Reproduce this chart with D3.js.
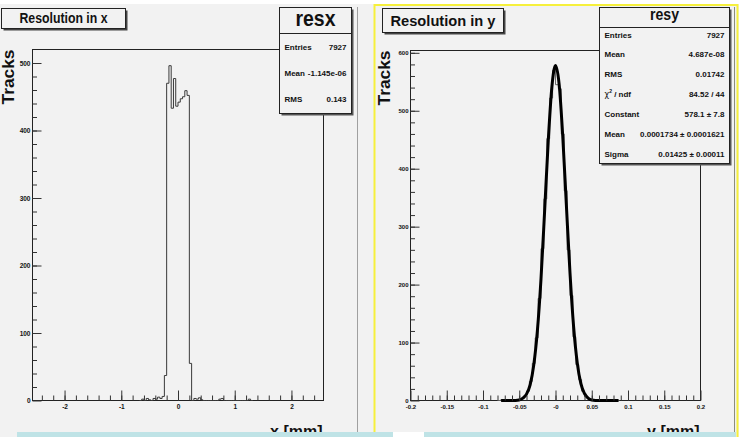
<!DOCTYPE html>
<html>
<head>
<meta charset="utf-8">
<script src="https://cdn.jsdelivr.net/npm/d3@7"></script>
<style>
body { margin: 0; background: #fff; }
text { font-family: "Liberation Sans", Arial, sans-serif; font-weight: bold; fill: #111; }
</style>
</head>
<body>
<div id="chart-area"></div>
<script>
// resx: histogram bins of 0.04 mm, first bin starts at resxStart
const resxStart = -0.68;
const resxWidth = 0.04;
const resxCounts = [0, 2, 0, 3, 1, 0, 3, 2, 5, 3, 6, 37, 470, 496, 433, 477, 436, 442, 447, 450, 459, 452, 55,
    0, 3, 2, 4, 1, 0, 0, 0, 0, 0, 0, 0, 2, 3, 0, 0, 0, 0, 0, 0, 0, 0, 0, 0, 0, 2, 0];
const resxTicks = [-2, -1, 0, 1, 2];
const resxStats = [["Entries", "7927"], ["Mean", "-1.145e-06"], ["RMS", "0.143"]];

// resy: histogram bins of 0.004 mm + gaussian fit
const resyStart = -0.08;
const resyWidth = 0.004;
const resyCounts = [0, 1, 0, 0, 1, 0, 1, 2, 3, 8, 16, 33, 64, 108, 176, 262, 348, 452, 522, 570,
    545, 538, 460, 362, 260, 181, 110, 62, 36, 16, 7, 3, 2, 0, 1, 0, 1, 0, 0, 0, 0, 0];
const fitX = [-0.075, -0.06, -0.05, -0.045, -0.04, -0.035, -0.03, -0.025, -0.02, -0.015, -0.01, -0.005, 0,
    0.005, 0.01, 0.015, 0.02, 0.025, 0.03, 0.035, 0.04, 0.045, 0.05, 0.06, 0.087];
const fitY = [0, 0, 1, 4, 11, 27, 61, 120, 210, 327, 448, 541, 578, 546, 456, 337, 220, 127, 65, 29, 12, 4, 1, 0, 0];
const resyTicks = [-0.2, -0.15, -0.1, -0.05, 0, 0.05, 0.1, 0.15, 0.2];
const resyTickLabels = ["-0.2", "-0.15", "-0.1", "-0.05", "-0", "0.05", "0.1", "0.15", "0.2"];
const resyStats = [["Entries", "7927"], ["Mean", "4.687e-08"], ["RMS", "0.01742"], ["chi2", "84.52 / 44"],
    ["Constant", "578.1 ± 7.8"], ["Mean", "0.0001734 ± 0.0001621"], ["Sigma", "0.01425 ± 0.00011"]];

const W = 742, H = 437;
const svg = d3.select("#chart-area").append("svg")
    .attr("width", W)
    .attr("height", H)
    .style("display", "block");

// pad backgrounds
svg.append("rect").attr("x", 0).attr("y", 4).attr("width", 371).attr("height", H - 4).attr("fill", "#f2f2f2");
svg.append("rect").attr("x", 371).attr("y", 4).attr("width", 368).attr("height", H - 4).attr("fill", "#f2f2f2");
svg.append("line").attr("x1", 357.5).attr("x2", 357.5).attr("y1", 7).attr("y2", H).attr("stroke", "#a0a0a0");
svg.append("line").attr("x1", 734.5).attr("x2", 734.5).attr("y1", 7).attr("y2", H).attr("stroke", "#8c8c7c");
svg.append("rect").attr("x", 374.5).attr("y", 5).attr("width", 363).attr("height", 445)
    .attr("fill", "none").attr("stroke", "#f6f03c").attr("stroke-width", 2);

function stepPoints(start, width, counts) {
    const pts = [[start, 0]];
    counts.forEach((c, i) => {
        pts.push([start + i * width, c]);
        pts.push([start + (i + 1) * width, c]);
    });
    pts.push([start + counts.length * width, 0]);
    return pts;
}

function drawPanel(p) {
    const g = svg.append("g");
    const x = d3.scaleLinear().domain(p.xDomain).range([p.left, p.right]);
    const y = d3.scaleLinear().domain(p.yDomain).range([p.bottom, p.top]);

    // frame
    g.append("rect")
        .attr("x", p.left).attr("y", p.top)
        .attr("width", p.right - p.left).attr("height", p.bottom - p.top)
        .attr("fill", "none").attr("stroke", "#222").attr("stroke-width", 1);

    // histogram outline
    g.append("path")
        .datum(stepPoints(p.hStart, p.hWidth, p.counts))
        .attr("fill", "none")
        .attr("stroke", p.histColor)
        .attr("stroke-width", 1)
        .attr("d", d3.line().x(d => x(d[0])).y(d => y(d[1])));

    if (p.fitX) {
        g.append("path")
            .datum(p.fitX.map((v, i) => [v, p.fitY[i]]))
            .attr("fill", "none")
            .attr("stroke", "#000")
            .attr("stroke-width", 3)
            .attr("stroke-linejoin", "round")
            .attr("d", d3.line().x(d => x(d[0])).y(d => y(d[1])).curve(d3.curveMonotoneX));
    }

    // x axis: minor then major
    g.append("g")
        .attr("transform", `translate(0, ${p.bottom})`)
        .call(d3.axisBottom(x).tickValues(p.xMinor).tickSize(-5).tickFormat(""))
        .call(a => a.select(".domain").remove());
    g.append("g")
        .attr("transform", `translate(0, ${p.bottom})`)
        .call(d3.axisBottom(x).tickValues(p.xTicks).tickSize(-10).tickPadding(4)
            .tickFormat((d, i) => p.xLabels[i]))
        .call(a => a.select(".domain").remove())
        .selectAll("text")
            .style("font-size", p.xFont + "px")
            .attr("fill", "#111");

    // y axis
    g.append("g")
        .attr("transform", `translate(${p.left}, 0)`)
        .call(d3.axisLeft(y).tickValues(p.yMinor).tickSize(-4.5).tickFormat(""))
        .call(a => a.select(".domain").remove());
    g.append("g")
        .attr("transform", `translate(${p.left}, 0)`)
        .call(d3.axisLeft(y).tickValues(p.yTicks).tickSize(-9).tickPadding(2).tickFormat(d3.format("d")))
        .call(a => a.select(".domain").remove())
        .selectAll("text")
            .style("font-size", p.yFont + "px")
            .attr("fill", "#111");

    g.selectAll(".tick line").attr("stroke", "#333");

    // axis titles
    g.append("text")
        .attr("transform", `translate(${p.yTitleX}, ${p.top}) rotate(-90)`)
        .attr("text-anchor", "end")
        .attr("textLength", 55)
        .attr("lengthAdjust", "spacingAndGlyphs")
        .style("font-size", "16px")
        .text("Tracks");
    g.append("text")
        .attr("x", p.right - 1).attr("y", 437)
        .attr("text-anchor", "end")
        .style("font-size", "16px")
        .text(p.xTitle);

    // stats box
    const s = p.stats;
    g.append("rect").attr("x", s.x + 2).attr("y", s.y + 2).attr("width", s.w).attr("height", s.h).attr("fill", "#555");
    g.append("rect").attr("x", s.x).attr("y", s.y).attr("width", s.w).attr("height", s.h)
        .attr("fill", "#f2f2f2").attr("stroke", "#222");
    g.append("line").attr("x1", s.x).attr("x2", s.x + s.w).attr("y1", s.sep).attr("y2", s.sep).attr("stroke", "#222");
    g.append("text")
        .attr("x", s.x + s.w / 2).attr("y", s.titleY)
        .attr("text-anchor", "middle")
        .attr("textLength", s.titleLen)
        .attr("lengthAdjust", "spacingAndGlyphs")
        .style("font-size", s.titleFont + "px")
        .text(s.title);
    s.rows.forEach((r, i) => {
        const ty = s.row0 + i * s.rowStep;
        const lab = g.append("text").attr("x", s.x + 5).attr("y", ty).style("font-size", "8px");
        if (r[0] === "chi2") {
            lab.append("tspan").style("font-family", "DejaVu Sans").style("font-weight", "normal").text("χ");
            lab.append("tspan").attr("dy", -4).style("font-size", "5px").text("2");
            lab.append("tspan").attr("dy", 4).text(" / ndf");
        } else {
            lab.text(r[0]);
        }
        g.append("text").attr("x", s.x + s.w - 5).attr("y", ty)
            .attr("text-anchor", "end").style("font-size", "8px").text(r[1]);
    });

    // title box
    const t = p.titleBox;
    g.append("rect").attr("x", t.x + 2).attr("y", t.y + 2).attr("width", t.w).attr("height", t.h).attr("fill", "#444");
    g.append("rect").attr("x", t.x).attr("y", t.y).attr("width", t.w).attr("height", t.h)
        .attr("fill", "#f2f2f2").attr("stroke", "#222");
    g.append("text")
        .attr("x", t.x + t.w / 2).attr("y", t.base)
        .attr("text-anchor", "middle")
        .attr("textLength", t.len)
        .attr("lengthAdjust", "spacingAndGlyphs")
        .style("font-size", t.font + "px")
        .text(t.text);
}

drawPanel({
    left: 32.5, right: 323.5, top: 49.5, bottom: 400.5,
    xDomain: [-2.565, 2.565], yDomain: [0, 520],
    hStart: resxStart, hWidth: resxWidth, counts: resxCounts, histColor: "#3a3a3a",
    xTicks: resxTicks, xLabels: resxTicks.map(String),
    xMinor: d3.range(-2.4, 2.41, 0.2), xFont: 6.5,
    yTicks: [0, 100, 200, 300, 400, 500], yMinor: d3.range(20, 520, 20), yFont: 6.5,
    yTitleX: 13.5, xTitle: "x [mm]",
    stats: { x: 279.5, y: 7.5, w: 72, h: 106, sep: 33.5, title: "resx", titleY: 25.5, titleFont: 22, titleLen: 40,
        rows: resxStats, row0: 49.5, rowStep: 26 },
    titleBox: { x: 1.5, y: 8.5, w: 124, h: 20, text: "Resolution in x", base: 22.5, font: 14, len: 88 }
});

drawPanel({
    left: 410.5, right: 700.5, top: 50.5, bottom: 400.5,
    xDomain: [-0.2, 0.2], yDomain: [0, 604],
    hStart: resyStart, hWidth: resyWidth, counts: resyCounts, histColor: "#6a6a6a",
    fitX: fitX, fitY: fitY,
    xTicks: resyTicks, xLabels: resyTickLabels,
    xMinor: d3.range(-0.19, 0.195, 0.01), xFont: 6,
    yTicks: [0, 100, 200, 300, 400, 500, 600], yMinor: d3.range(20, 604, 20), yFont: 6,
    yTitleX: 389.5, xTitle: "y [mm]",
    stats: { x: 599.5, y: 7.5, w: 130, h: 156, sep: 27.5, title: "resy", titleY: 20, titleFont: 17, titleLen: 29,
        rows: resyStats, row0: 37.5, rowStep: 19.9 },
    titleBox: { x: 382.5, y: 8.5, w: 121, h: 24, text: "Resolution in y", base: 26, font: 15.5, len: 105 }
});

// light cyan strips along the bottom edge
svg.append("rect").attr("x", 17).attr("y", 432).attr("width", 376).attr("height", 5).attr("fill", "#bfe3e6");
svg.append("rect").attr("x", 393).attr("y", 432).attr("width", 31).attr("height", 5).attr("fill", "#fff");
svg.append("rect").attr("x", 424).attr("y", 432).attr("width", 312).attr("height", 5).attr("fill", "#bfe3e6");
</script>
</body>
</html>
